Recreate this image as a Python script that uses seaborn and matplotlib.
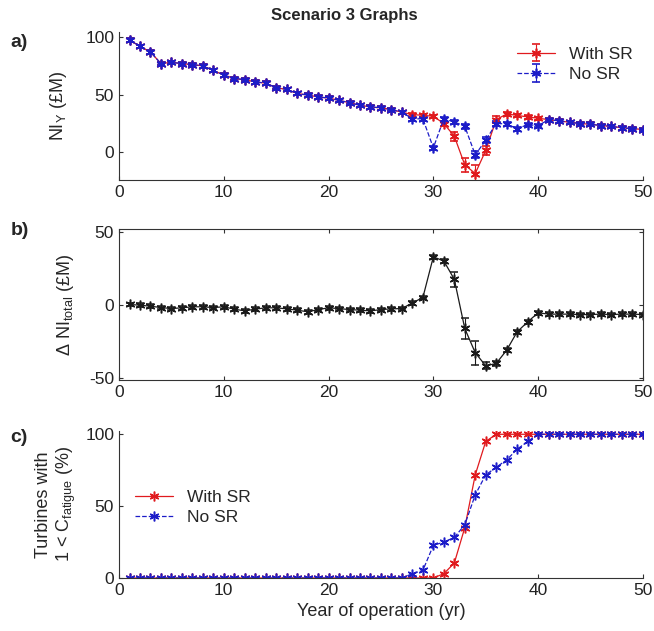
import numpy as np
import pandas as pd
import matplotlib
matplotlib.use('Agg')
import matplotlib.pyplot as plt
import seaborn as sns

# Data
years = list(range(1, 51))

ni_with_sr = [97.4, 92, 87, 77, 78, 77, 76, 75, 71, 67,
              64, 63, 61, 60, 56, 54.5, 51, 49.6, 48, 47,
              45, 43, 40.7, 39.3, 38.5, 37, 34.7, 32.7, 32, 31.2,
              24.9, 13.9, -11, -18.5, 1.5, 28.3, 33.2, 32, 30.6, 29.5,
              28.3, 27.2, 26, 24.9, 24.3, 23.1, 22.5, 21.1, 20.5, 19.7]
ni_no_sr = [97.4, 92, 87, 77, 78, 77, 76, 75, 71, 67,
            64, 63, 61, 60, 56, 54.5, 51, 49.6, 48, 47,
            45, 43, 40.7, 39.3, 38.5, 37, 34.7, 29, 29, 3.8,
            29, 26.3, 22.5, -2.3, 10.4, 24.9, 24.6, 20.3, 24, 23,
            28.3, 27.2, 26, 24.9, 24.3, 23.1, 22.5, 21.1, 20.5, 19.7]
err_with_sr = [1.5] * 30 + [2, 4, 6, 7, 4, 3] + [1.5] * 14
err_no_sr = [1.5] * 29 + [1.5, 2, 2, 2, 3, 2.5, 2] + [1.5] * 14

delta_ni = [0.5, 0, -0.7, -1.6, -2.3, -1.8, -1.1, -1.1, -1.6, -1.1,
            -2.7, -3.9, -2.7, -1.8, -1.8, -2.5, -3.4, -4.5, -3, -1.8,
            -2.3, -3, -3.4, -3.9, -3, -2.5, -2.3, 1.6, 5.2, 33,
            30.2, 17.7, -15.9, -32.5, -41.4, -39.8, -30.7, -18.2, -11.4, -5.2,
            -6.1, -6.1, -6.1, -6.4, -6.4, -6.1, -6.4, -6.1, -6.1, -6.4]
err_delta = [1.2] * 31 + [5.3, 7, 8.3, 2.5, 1.5] + [1.2] * 14

fat_with_sr = [0] * 30 + [3, 10.4, 35, 71.8, 95] + [100] * 15
fat_no_sr = [0] * 27 + [3, 5.3, 22.7, 25, 28.2, 37, 57.9, 71.8, 77, 82.2, 89.6, 95] + [100] * 11

RED = '#e01a1e'
BLUE = '#1c1cc8'
STAR = (6, 2, 0)  # asterisk marker, like MATLAB '*'

sns.set_style('ticks')
plt.rcParams['font.family'] = ['Liberation Sans', 'DejaVu Sans']
plt.rcParams['mathtext.fontset'] = 'custom'
plt.rcParams['mathtext.rm'] = 'Liberation Sans'
plt.rcParams['mathtext.it'] = 'Liberation Sans'
plt.rcParams['axes.unicode_minus'] = False
plt.rcParams['xtick.direction'] = 'in'
plt.rcParams['ytick.direction'] = 'in'
plt.rcParams['axes.edgecolor'] = '#333333'
plt.rcParams['axes.linewidth'] = 0.8

fig = plt.figure(figsize=(6.54, 6.31), dpi=100)
fs = 12.5
lfs = 13

# a) yearly net income
ax1 = fig.add_axes([0.182, 0.715, 0.801, 0.2345])
ax1.errorbar(years, ni_with_sr, yerr=err_with_sr, color=RED, marker=STAR, ms=7,
             mew=1.2, lw=0.9, capsize=3, elinewidth=0.8, label='With SR')
ax1.errorbar(years, ni_no_sr, yerr=err_no_sr, color=BLUE, marker=STAR, ms=7,
             mew=1.2, lw=0.9, ls='--', capsize=3, elinewidth=0.8, label='No SR')
ax1.set_xlim(0, 50)
ax1.set_ylim(-24, 104.5)
ax1.set_yticks([0, 50, 100])
ax1.set_xticks([0, 10, 20, 30, 40, 50])
ax1.set_ylabel(r'NI$_{\mathregular{Y}}$ (£M)', fontsize=lfs)
ax1.legend(loc='upper right', frameon=False, fontsize=fs, handlelength=2.2,
           bbox_to_anchor=(1.0, 0.97), borderaxespad=0.2, labelspacing=0.3)
sns.despine(ax=ax1)

# b) difference in total net income
ax2 = fig.add_axes([0.182, 0.398, 0.801, 0.239])
ax2.errorbar(years, delta_ni, yerr=err_delta, color='#1a1a1a', marker=STAR, ms=7,
             mew=1.1, lw=0.9, capsize=3, elinewidth=0.8)
ax2.set_xlim(0, 50)
ax2.set_ylim(-51, 52)
ax2.set_yticks([-50, 0, 50])
ax2.set_xticks([0, 10, 20, 30, 40, 50])
ax2.tick_params(top=True, right=True)
ax2.set_ylabel(r'$\Delta$ NI$_{\mathregular{total}}$ (£M)', fontsize=lfs)

# c) turbines exceeding fatigue limit
ax3 = fig.add_axes([0.182, 0.084, 0.801, 0.233])
sns.lineplot(x=years, y=fat_with_sr, color=RED, marker=STAR, markersize=7,
             markeredgewidth=1.1, markeredgecolor=RED, lw=0.9, ls='-',
             label='With SR', ax=ax3)
sns.lineplot(x=years, y=fat_no_sr, color=BLUE, marker=STAR, markersize=7,
             markeredgewidth=1.1, markeredgecolor=BLUE, lw=0.9, ls='--',
             label='No SR', ax=ax3)
ax3.set_xlim(0, 50)
ax3.set_ylim(0, 102.3)
ax3.set_yticks([0, 50, 100])
ax3.set_xticks([0, 10, 20, 30, 40, 50])
ax3.set_xlabel('Year of operation (yr)', fontsize=lfs)
ax3.set_ylabel('Turbines with\n' + r'1 < C$_{\mathregular{fatigue}}$ (%)', fontsize=lfs)
ax3.legend(loc='center left', frameon=False, fontsize=fs, handlelength=2.2,
           bbox_to_anchor=(0.0, 0.48), labelspacing=0.3)
sns.despine(ax=ax3)

for ax in (ax1, ax2, ax3):
    ax.tick_params(labelsize=fs, length=3, colors='#333333', labelcolor='#222222')

ax1.yaxis.set_label_coords(-0.095, 0.5)
ax2.yaxis.set_label_coords(-0.082, 0.5)
ax3.yaxis.set_label_coords(-0.078, 0.5)

fig.text(0.527, 0.975, 'Scenario 3 Graphs', ha='center', va='center',
         fontsize=12, fontweight='bold')
for lbl, yy in (('a)', 0.933), ('b)', 0.635), ('c)', 0.306)):
    fig.text(0.016, yy, lbl, ha='left', va='center', fontsize=14, fontweight='bold')

fig.savefig('out.png', dpi=100)
